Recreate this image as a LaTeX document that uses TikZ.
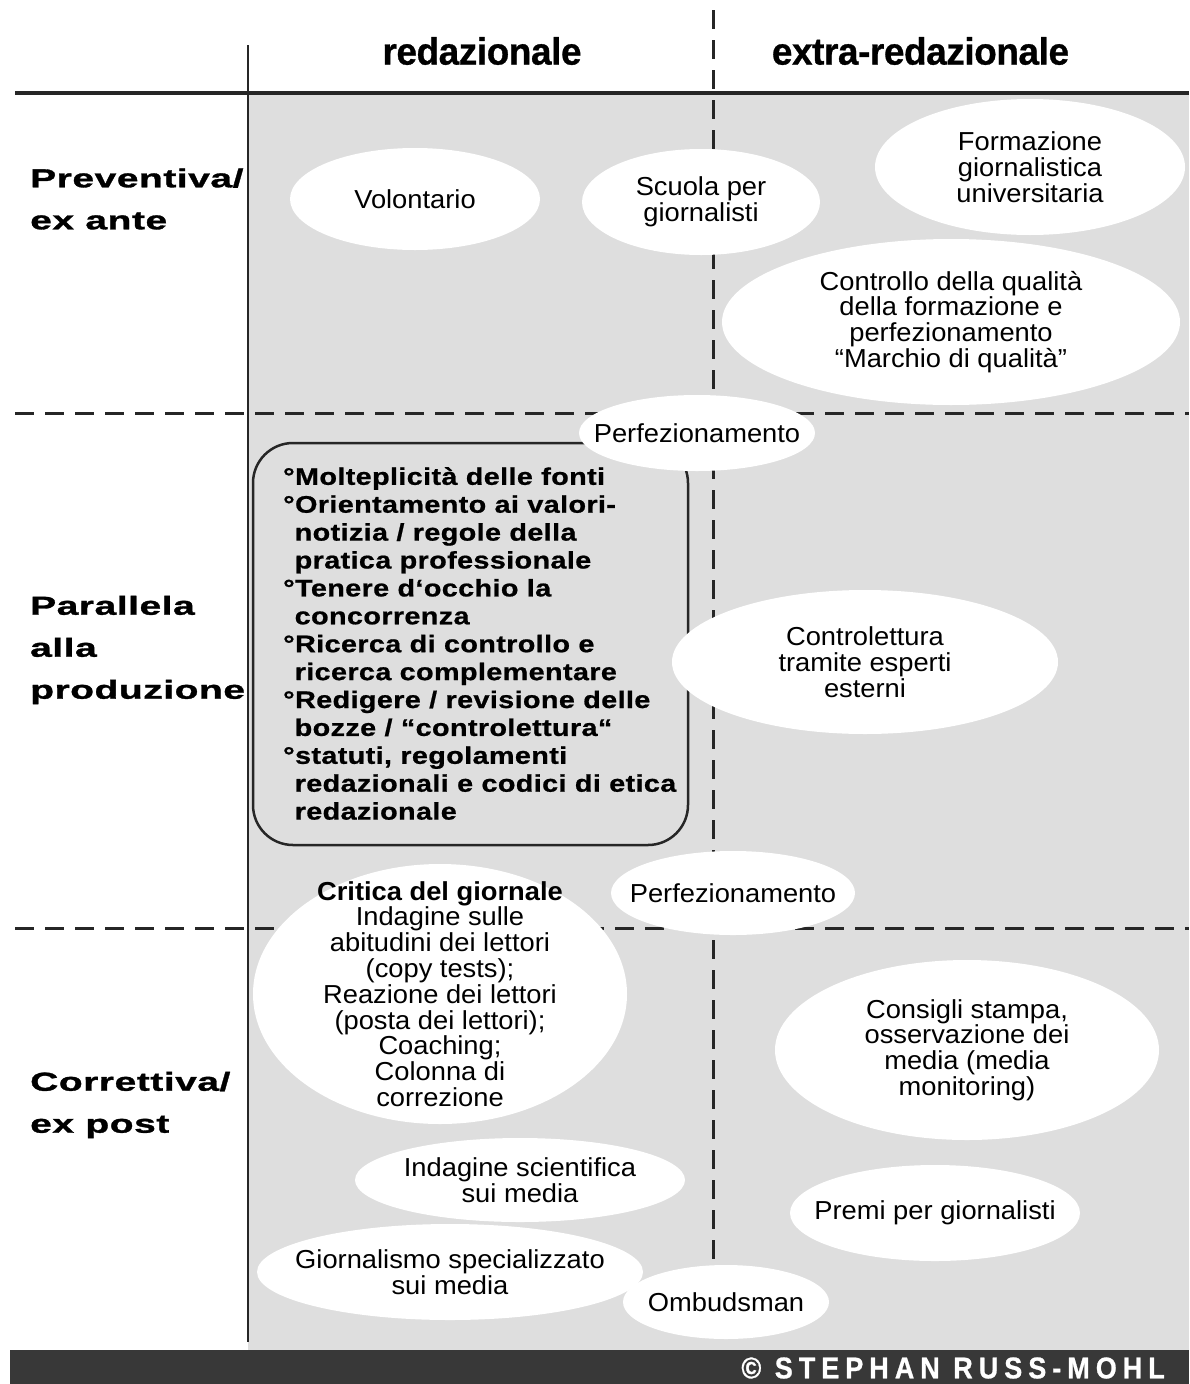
\documentclass[tikz,border=0pt]{standalone}
\usepackage{fontspec}
\setmainfont{Liberation Sans}
\newfontfamily\bubblefont[FakeStretch=1.05]{Liberation Sans}
\newfontfamily\rowfont[FakeStretch=1.5,LetterSpace=2,FakeBold=1.2]{Liberation Sans}
\newfontfamily\checkfont[FakeStretch=1.2,LetterSpace=1.5,FakeBold=0.8]{Liberation Sans}
\newfontfamily\signfont[FakeStretch=0.9,LetterSpace=20,FakeBold=0.8]{Liberation Sans}
\newfontfamily\headfont[FakeStretch=0.97,LetterSpace=-1,FakeBold=0.8]{Liberation Sans}
\usetikzlibrary{shapes.geometric,positioning}

\definecolor{panelgray}{gray}{0.87}
\definecolor{bargray}{gray}{0.22}
\definecolor{inkgray}{gray}{0.15}

\begin{document}
\begin{tikzpicture}[x=1pt, y=-1pt,
				bubble/.style={ellipse, fill=white, inner sep=-40pt, align=center, font=\bubblefont\fontsize{26}{25.8}\selectfont},
				rowlabel/.style={anchor=west, inner sep=0pt, align=left, font=\rowfont\bfseries\fontsize{26}{42}\selectfont},
				colhead/.style={inner sep=0pt, font=\headfont\bfseries\fontsize{38}{40}\selectfont},
				checklist/.style={anchor=north west, inner sep=0pt, align=left, font=\checkfont\bfseries\fontsize{24}{27.9}\selectfont},
				boxline/.style={draw=inkgray, line width=2.5pt, rounded corners=40pt},
				divider/.style={draw=inkgray, line width=3pt, dash pattern=on 19pt off 11pt},
				rule/.style={draw=inkgray, line width=2.5pt}
			]
			\useasboundingbox (0,0) rectangle (1189,1384);
			\fill[white] (0,0) rectangle (1189,1384);
			\fill[panelgray] (248,93) rectangle (1189,1350);
			\fill[bargray] (10,1350) rectangle (1189,1384);
			% grid
			\draw[rule, line width=3.5pt] (15,93) -- (1189,93);
			\draw[rule] (248,45) -- (248,1342);
			\draw[divider] (15,413) -- (1189,413);
			\draw[divider] (15,928) -- (1189,928);
			\draw[divider] (713,10) -- (713,1270);
			% column heads
			\node[colhead] (intern) at (482,51) {redazionale};
			\node[colhead] (extern) [right=190pt of intern] {extra-redazionale};
			% row heads
			\node[rowlabel] (preventiva) at (30,199) {Preventiva/\\ex ante};
			\node[rowlabel] (parallela) at (30,650) {Parallela\\alla\\produzione};
			\node[rowlabel] (correttiva) at (30,1105) {Correttiva/\\ex post};
			% routine checks
			\draw[boxline] (253,443) rectangle (688,845);
			\node[checklist] (routine) at (283,467) {°Molteplicità delle fonti\\
				°Orientamento ai valori-\\
				\phantom{°}notizia / regole della\\
				\phantom{°}pratica professionale\\
				°Tenere d‘occhio la\\
				\phantom{°}concorrenza\\
				°Ricerca di controllo e\\
				\phantom{°}ricerca complementare\\
				°Redigere / revisione delle\\
				\phantom{°}bozze / “controlettura“\\
				°statuti, regolamenti\\
				\phantom{°}redazionali e codici di etica\\
				\phantom{°}redazionale};
			% preventive
			\node[bubble, minimum width=250pt, minimum height=102pt] (volontario) at (415,199) {Volontario};
			\node[bubble, minimum width=238pt, minimum height=106pt] (scuola) at (701,202) {Scuola per\\giornalisti};
			\node[bubble, minimum width=310pt, minimum height=136pt] (universita) at (1030,167) {Formazione\\giornalistica\\universitaria};
			\node[bubble, minimum width=458pt, minimum height=166pt] (marchio) at (951,322) {Controllo della qualità\\della formazione e\\perfezionamento\\“Marchio di qualità”};
			% parallel
			\node[bubble, minimum width=236pt, minimum height=76pt] (perfuno) at (697,433) {Perfezionamento};
			\node[bubble, minimum width=386pt, minimum height=144pt] (esperti) at (865,662) {Controlettura\\tramite esperti\\esterni};
			\node[bubble, minimum width=244pt, minimum height=84pt] (perfdue) at (733,893) {Perfezionamento};
			% corrective
			\node[bubble, minimum width=374pt, minimum height=260pt] (critica) at (440,994) {\textbf{Critica del giornale}\\Indagine sulle\\abitudini dei lettori\\(copy tests);\\Reazione dei lettori\\(posta dei lettori);\\Coaching;\\Colonna di\\correzione};
			\node[bubble, minimum width=384pt, minimum height=180pt] (consigli) at (967,1050) {Consigli stampa,\\osservazione dei\\media (media\\monitoring)};
			\node[bubble, minimum width=330pt, minimum height=84pt] (scientifica) at (520,1180) {Indagine scientifica\\sui media};
			\node[bubble, minimum width=290pt, minimum height=96pt] (premi) at (935,1213) {Premi per giornalisti};
			\node[bubble, minimum width=386pt, minimum height=96pt] (specializzato) at (450,1272) {Giornalismo specializzato\\sui media};
			\node[bubble, minimum width=206pt, minimum height=74pt] (ombudsman) at (726,1302) {Ombudsman};
			% credit
			\node[anchor=east, inner sep=0pt, text=white, font=\signfont\bfseries\fontsize{30}{30}\selectfont] (credit) at (1165,1368) {© STEPHAN RUSS-MOHL};
\end{tikzpicture}
\end{document}
